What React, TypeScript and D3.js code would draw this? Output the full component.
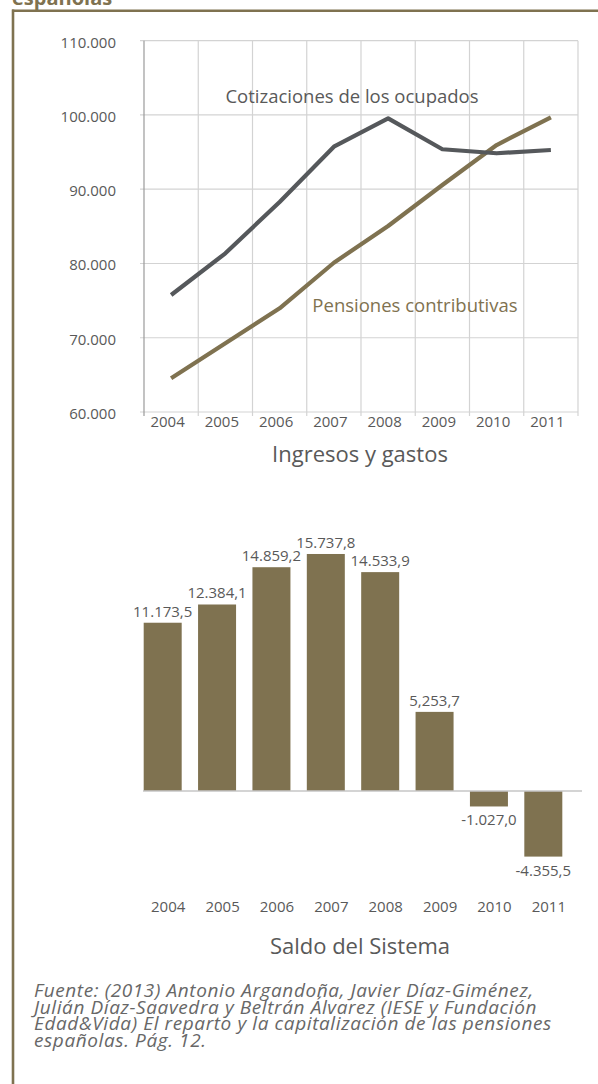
import React from "react";
import * as d3 from "d3";

const years = ["2004", "2005", "2006", "2007", "2008", "2009", "2010", "2011"];
const cotizaciones = [75760, 81370, 88280, 95730, 99550, 95380, 94840, 95280];
const pensiones = [64540, 69250, 73960, 80100, 85050, 90570, 95950, 99690];
const yTicks = [60000, 70000, 80000, 90000, 100000, 110000];
const yTickLabels = ["60.000", "70.000", "80.000", "90.000", "100.000", "110.000"];
const saldo = [11173.5, 12384.1, 14859.2, 15737.8, 14533.9, 5253.7, -1027.0, -4355.5];
const saldoLabels = ["11.173,5", "12.384,1", "14.859,2", "15.737,8", "14.533,9", "5,253,7", "-1.027,0", "-4.355,5"];
const footerLines = [
  "Fuente: (2013) Antonio Argandoña, Javier Díaz-Giménez,",
  "Julián Díaz-Saavedra y Beltrán Álvarez (IESE y Fundación",
  "Edad&Vida) El reparto y la capitalización de las pensiones",
  "españolas. Pág. 12.",
];

const BROWN = "#7f7250";
const DARK = "#55585b";
const TEXT = "#595959";
const GRID = "#d3d3d3";
const FONT = "'Open Sans', 'Noto Sans', sans-serif";

export default function App() {
  const W = 598;
  const H = 1084;

  // Line chart scales
  const xL = d3.scaleBand<string>().domain(years).range([144, 578]);
  const yL = d3.scaleLinear().domain([60000, 110000]).range([412, 40.7]);
  const lineGen = d3
    .line<number>()
    .x((_, i) => (xL(years[i]) as number) + xL.bandwidth() / 2)
    .y((d) => yL(d));
  const boundaries = d3.range(years.length + 1).map((i) => 144 + i * xL.step());

  // Bar chart scales
  const xB = d3.scaleBand<string>().domain(years).range([135.5, 570.5]);
  const yB = d3.scaleLinear().domain([-5000, 16000]).range([866.3, 550.04]);
  const barW = 38;

  return (
    <div style={{ position: "absolute", left: 0, top: 0, width: W, height: H, background: "#fff" }}>
      <svg width={W} height={H} style={{ display: "block", fontFamily: FONT }}>
        <rect x={0} y={0} width={W} height={H} fill="#fff" />
        {/* header fragment */}
        <text x={12} y={5} fontSize={20} fontWeight="bold" fill={BROWN}>
          españolas
        </text>
        {/* frame */}
        <line x1={12} x2={W} y1={10.8} y2={10.8} stroke={BROWN} strokeWidth={2.6} />
        <line x1={13} x2={13} y1={9.5} y2={H} stroke={BROWN} strokeWidth={2.6} />

        {/* line chart grid */}
        {yTicks.map((t, i) => (
          <g key={"yt" + t}>
            <line x1={140} x2={578} y1={yL(t)} y2={yL(t)} stroke={GRID} strokeWidth={1.2} />
            <text
              x={116}
              y={yL(t) + 1}
              textAnchor="end"
              dominantBaseline="central"
              fontSize={15}
              fill={TEXT}
            >
              {yTickLabels[i]}
            </text>
          </g>
        ))}
        {boundaries.map((bx, i) => (
          <line
            key={"vb" + i}
            x1={bx}
            x2={bx}
            y1={yL(110000)}
            y2={yL(60000) + 4}
            stroke={i === 0 ? "#9a9a9a" : GRID}
            strokeWidth={1.2}
          />
        ))}
        {years.map((yr) => (
          <text
            key={"xl" + yr}
            x={(xL(yr) as number) + xL.bandwidth() / 2 - 3.5}
            y={427}
            textAnchor="middle"
            fontSize={15}
            fill={TEXT}
          >
            {yr}
          </text>
        ))}
        <path d={lineGen(pensiones) || ""} fill="none" stroke={BROWN} strokeWidth={4.2} strokeLinejoin="round" />
        <path d={lineGen(cotizaciones) || ""} fill="none" stroke={DARK} strokeWidth={4.2} strokeLinejoin="round" />
        <text x={352} y={103} textAnchor="middle" fontSize={18.5} fill={TEXT}>
          Cotizaciones de los ocupados
        </text>
        <text x={415} y={312} textAnchor="middle" fontSize={18.5} fill={BROWN}>
          Pensiones contributivas
        </text>
        <text x={360} y={462} textAnchor="middle" fontSize={22} fill={TEXT}>
          Ingresos y gastos
        </text>

        {/* bar chart */}
        {saldo.map((v, i) => {
          const cx = (xB(years[i]) as number) + xB.bandwidth() / 2;
          const y0 = yB(0);
          const y1 = yB(v);
          return (
            <g key={"bar" + i}>
              <rect x={cx - barW / 2} y={Math.min(y0, y1)} width={barW} height={Math.abs(y1 - y0)} fill={BROWN} />
              <text
                x={cx}
                y={v >= 0 ? y1 - 6 : y1 + 19}
                textAnchor="middle"
                fontSize={15}
                fill={TEXT}
              >
                {saldoLabels[i]}
              </text>
            </g>
          );
        })}
        <line x1={143} x2={582} y1={yB(0)} y2={yB(0)} stroke="#c6c6c6" strokeWidth={1.5} />
        {years.map((yr) => (
          <text
            key={"bx" + yr}
            x={(xB(yr) as number) + xB.bandwidth() / 2 + 5.5}
            y={912}
            textAnchor="middle"
            fontSize={15}
            fill={TEXT}
          >
            {yr}
          </text>
        ))}
        <text x={360} y={954} textAnchor="middle" fontSize={22} fill={TEXT}>
          Saldo del Sistema
        </text>

        {/* footer */}
        {footerLines.map((l, i) => (
          <text
            key={"f" + i}
            x={34}
            y={997 + i * 16.5}
            fontSize={19}
            letterSpacing={0.6}
            fontStyle="italic"
            fill="#676767"
          >
            {l}
          </text>
        ))}
      </svg>
    </div>
  );
}
